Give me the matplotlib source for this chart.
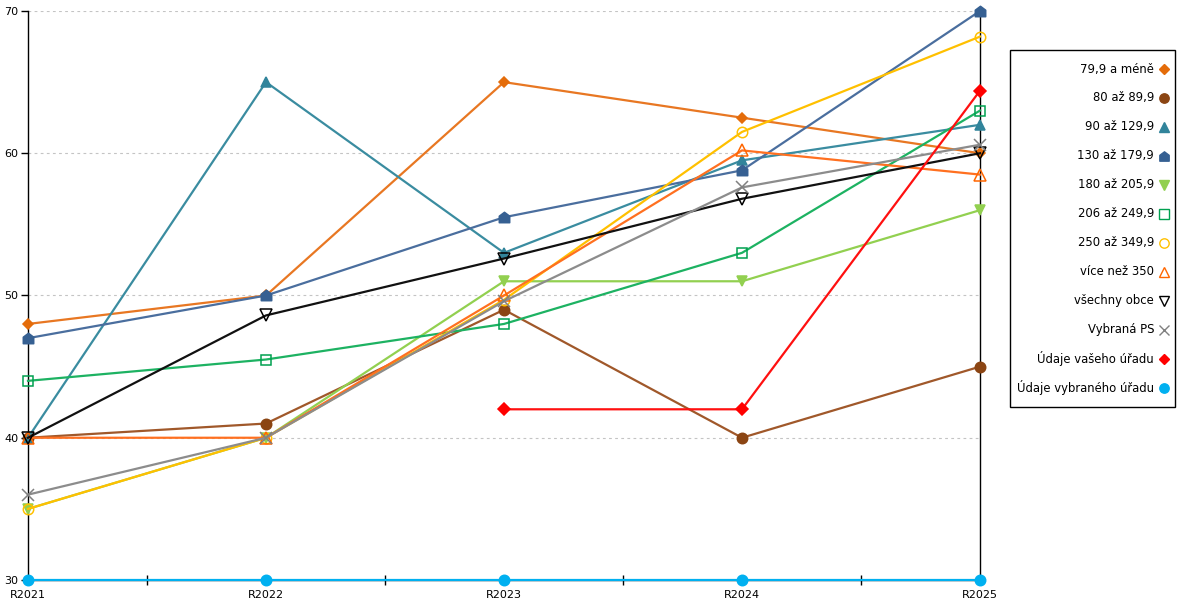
import numpy as np
import matplotlib
matplotlib.use("Agg")
import matplotlib.pyplot as plt
from matplotlib.path import Path
from matplotlib.lines import Line2D
from matplotlib.patches import Rectangle

years = ['R2021', 'R2022', 'R2023', 'R2024', 'R2025']
labels = ['79,9 a méně', '80 až 89,9', '90 až 129,9', '130 až 179,9',
          '180 až 205,9', '206 až 249,9', '250 až 349,9', 'více než 350',
          'všechny obce', 'Vybraná PS', 'Údaje vašeho úřadu', 'Údaje vybraného úřadu']

s_79 = [48, 50, 65, 62.5, 60]
s_80 = [40, 41, 49, 40, 45]
s_90 = [40, 65, 53, 59.5, 62]
s_130 = [47, 50, 55.5, 58.8, 70]
s_180 = [35, 40, 51, 51, 56]
s_206 = [44, 45.5, 48, 53, 63]
s_250 = [35, 40, 49.7, 61.5, 68.2]
s_350 = [40, 40, 50, 60.2, 58.5]
s_all = [40, 48.6, 52.6, 56.8, 60]
s_ps = [36, 40, 49.6, 57.6, 60.6]
s_vas = [np.nan, np.nan, 42, 42, 64.4]
s_vyb = [30, 30, 30, 30, 30]

series = [s_79, s_80, s_90, s_130, s_180, s_206, s_250, s_350, s_all, s_ps, s_vas, s_vyb]

house = Path([(-1, -1), (1, -1), (1, 0.25), (0, 1), (-1, 0.25), (-1, -1)],
             [Path.MOVETO, Path.LINETO, Path.LINETO, Path.LINETO, Path.LINETO, Path.CLOSEPOLY])

# (line colour, marker, marker face, marker edge, marker size)
styles = [
    ('#E87722', 'D', '#E46C0A', '#E46C0A', 5.5),
    ('#A0582A', 'o', '#8B4513', '#8B4513', 7.5),
    ('#3A8CA0', '^', '#31849B', '#31849B', 7.5),
    ('#4A6E9E', house, '#366092', '#366092', 7.5),
    ('#92D050', 'v', '#92D050', '#92D050', 7.5),
    ('#1DB262', 's', 'none', '#00A050', 7.5),
    ('#FFC000', 'o', 'none', '#FFC000', 7.5),
    ('#FF7020', '^', 'none', '#FF6600', 8),
    ('#111111', 'v', 'none', '#000000', 8),
    ('#8C8C8C', 'x', '#808080', '#808080', 8),
    ('#FF1010', 'D', '#FF0000', '#FF0000', 6),
    ('#00B0F0', 'o', '#00B0F0', '#00B0F0', 7.5),
]

plt.rcParams['font.family'] = ['DejaVu Sans']
W, H = 1200, 600
fig = plt.figure(figsize=(12, 6), dpi=100)
ax = fig.add_axes([28 / W, 1 - 580 / H, (980 - 28) / W, (580 - 11) / H])

x = np.arange(len(years))
for vals, lab, (lc, mk, mf, me, ms) in zip(series, labels, styles):
    ax.plot(x, vals, color=lc, lw=1.6, marker=mk, markerfacecolor=mf,
            markeredgecolor=me, markersize=ms, markeredgewidth=1.1,
            clip_on=False, zorder=3, label=lab)

ax.set_xlim(0, 4)
ax.set_ylim(30, 70)
ax.set_yticks([30, 40, 50, 60, 70])
ax.yaxis.grid(True, linestyle=(0, (2.5, 3)), color='#C4C4C4', lw=0.8)
ax.set_axisbelow(True)

ax.set_xticks(x)
ax.set_xticklabels(years)
ax.set_xticks([0.5, 1.5, 2.5, 3.5], minor=True)
ax.tick_params(axis='x', which='major', length=0, labelsize=8, pad=7)
ax.tick_params(axis='x', which='minor', length=7, direction='inout', width=1)
ax.tick_params(axis='y', which='major', length=5, width=1, labelsize=8, pad=2)

ax.spines['top'].set_visible(False)
for sp in ['left', 'right', 'bottom']:
    ax.spines[sp].set_color('black')
    ax.spines[sp].set_linewidth(1)

# legend: frame, right-aligned labels with the marker after each label
fig.patches.append(Rectangle((1010 / W, 1 - 407 / H), 165 / W, 357 / H,
                             transform=fig.transFigure, fill=False, ec='black', lw=1))
row0, step = 69.0, 28.97
for i, (lab, (lc, mk, mf, me, ms)) in enumerate(zip(labels, styles)):
    yc = 1 - (row0 + i * step) / H
    fig.text(1154 / W, yc, lab, ha='right', va='center', fontsize=8.4)
    fig.add_artist(Line2D([1164 / W], [yc], transform=fig.transFigure, linestyle='none',
                          marker=mk, markerfacecolor=mf, markeredgecolor=me,
                          markersize=ms * 0.9, markeredgewidth=1.0))

fig.savefig('out.png', dpi=100)
